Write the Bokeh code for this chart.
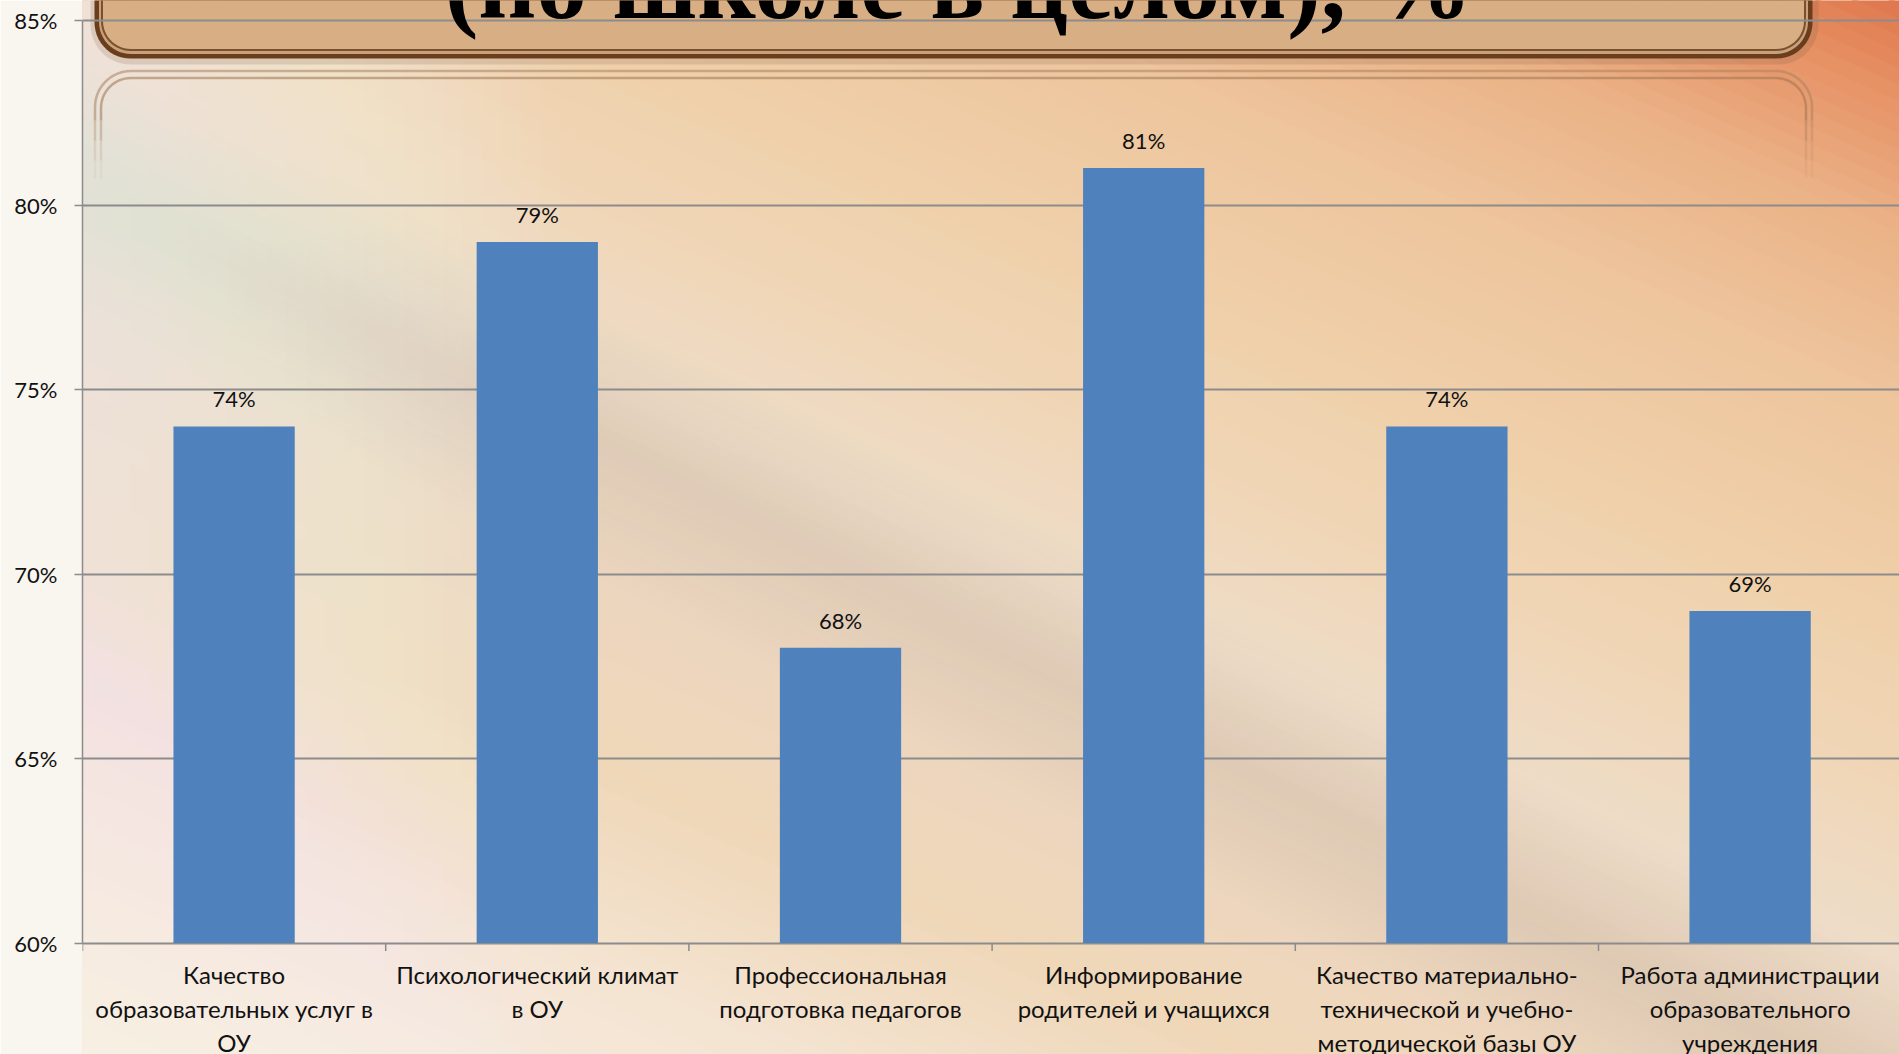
import numpy as np
from bokeh.plotting import figure
from bokeh.models import Range1d, FixedTicker, LabelSet, Label, ColumnDataSource
from bokeh.core.properties import value
from bokeh.embed import file_html
from bokeh.resources import INLINE

# ---------------- data ----------------
categories = [
    "Качество\nобразовательных услуг в\nОУ",
    "Психологический климат\nв ОУ",
    "Профессиональная\nподготовка педагогов",
    "Информирование\nродителей и учащихся",
    "Качество материально-\nтехнической и учебно-\nметодической базы ОУ",
    "Работа администрации\nобразовательного\nучреждения",
]
values = [74, 79, 68, 81, 74, 69]
y_ticks = [60, 65, 70, 75, 80, 85]
y_tick_labels = ["60%", "65%", "70%", "75%", "80%", "85%"]
data_labels = [f"{v}%" for v in values]
title_text = "(по школе в целом), %"

# ---------------- geometry (canvas pixels -> data) ----------------
W, H = 1899, 1054
FR_LEFT = 82.0       # canvas x of plot frame left (y axis)
CAT_PX = 303.2       # pixels per category
PPP = 36.9           # pixels per percent
Y85 = 20.0           # canvas y of 85% line

x_end = (W - FR_LEFT) / CAT_PX
y_top = 85 + Y85 / PPP
y_bot = y_top - H / PPP


def X(wx):
    return (np.asarray(wx, dtype=float) - FR_LEFT) / CAT_PX


def Y(wy):
    return 85 - (np.asarray(wy, dtype=float) - Y85) / PPP


def hex2rgb(h):
    h = h.lstrip("#")
    return np.array([int(h[i:i + 2], 16) for i in (0, 2, 4)], dtype=float)


def rgb2hex(c):
    c = np.clip(np.round(c), 0, 255).astype(int)
    return "#%02x%02x%02x" % tuple(c)


p = figure(
    width=W, height=H,
    x_range=Range1d(0, x_end), y_range=Range1d(y_bot, y_top),
    output_backend="svg", toolbar_location=None,
    x_axis_location=None, y_axis_location="left",
    min_border_left=int(FR_LEFT), min_border_right=0, min_border_top=0, min_border_bottom=0,
)
p.border_fill_color = "#f9f5ef"
p.background_fill_color = "#f0dcc2"
p.outline_line_color = None
p.xgrid.visible = False

# ---------------- background (diagonal gradient) ----------------
theta = np.deg2rad(24)
dvec = np.array([np.cos(theta), np.sin(theta)])
nvec = np.array([-np.sin(theta), np.cos(theta)])
stop_t = [-800, -690, -560, -400, -220, -60, 100, 260, 450, 650, 1000]
stop_c = ["#dd6c44", "#e69164", "#ebb287", "#eec59d", "#efcfa9", "#f0d6b6",
          "#eedcc8", "#ecd6c0", "#efd7b8", "#f4e4d2", "#f9f3ea"]
stop_rgb = np.array([hex2rgb(c) for c in stop_c])
ts = np.linspace(-800, 1000, 121)
S = 4000
bxs, bys, bcol = [], [], []
for k in range(len(ts) - 1):
    c0, c1 = ts[k], ts[k + 1] + 1.5
    pts = [c0 * nvec - S * dvec, c0 * nvec + S * dvec, c1 * nvec + S * dvec, c1 * nvec - S * dvec]
    bxs.append(list(X([q[0] for q in pts])))
    bys.append(list(Y([q[1] for q in pts])))
    tm = 0.5 * (ts[k] + ts[k + 1])
    rgb = [np.interp(tm, stop_t, stop_rgb[:, j]) for j in range(3)]
    bcol.append(rgb2hex(rgb))
p.patches(bxs, bys, fill_color=bcol, line_color=bcol, line_width=1, level="image")

# soft grey swoosh (nested translucent bands)
sw0, sw1 = np.array([-200.0, 40.0]), np.array([2000.0, 1150.0])
sdir = (sw1 - sw0) / np.linalg.norm(sw1 - sw0)
sperp = np.array([-sdir[1], sdir[0]])
sxs, sys_ = [], []
for wid in np.linspace(20, 240, 14):
    pts = [sw0 + sperp * wid / 2, sw1 + sperp * wid / 2, sw1 - sperp * wid / 2, sw0 - sperp * wid / 2]
    sxs.append(list(X([q[0] for q in pts])))
    sys_.append(list(Y([q[1] for q in pts])))
p.patches(sxs, sys_, fill_color="#a08272", fill_alpha=0.006, line_color=None, level="image")

# left white glow (nested rectangles sharing the left edge)
gl = np.linspace(110, 560, 24)
p.quad(left=X([FR_LEFT] * len(gl)), right=X(gl), top=Y(-20), bottom=Y(1100),
       fill_color="#fffcf8", fill_alpha=0.032, line_color=None, level="image")


# ---------------- slide title boxes ----------------
def rrect(x0, y0, x1, y1, r, n=14):
    pts = []
    for cx, cy, a0, a1 in [(x1 - r, y0 + r, -90, 0), (x1 - r, y1 - r, 0, 90),
                           (x0 + r, y1 - r, 90, 180), (x0 + r, y0 + r, 180, 270)]:
        for a in np.deg2rad(np.linspace(a0, a1, n)):
            pts.append((cx + r * np.cos(a), cy + r * np.sin(a)))
    return list(X([q[0] for q in pts])), list(Y([q[1] for q in pts]))


for (x0, y1, x1, r, col, alp) in [
    (90, 64, 1818, 40, "#7a5a40", 0.18),
    (94, 58, 1812, 36, "#6a3d1c", 1.0),
    (98.5, 53.5, 1807.5, 32, "#c8a07a", 1.0),
    (100.5, 50.5, 1805.5, 30, "#7b502e", 1.0),
    (102.5, 48.5, 1803.5, 28, "#d8ae85", 1.0),
]:
    xs, ys = rrect(x0, -120, x1, y1, r)
    p.patch(xs, ys, fill_color=col, fill_alpha=alp, line_color=None, level="image")


def rpath(x0, ytop, x1, ybot, r, n=14):
    pts = [(x0, ybot)]
    for a in np.deg2rad(np.linspace(180, 270, n)):
        pts.append((x0 + r + r * np.cos(a), ytop + r + r * np.sin(a)))
    for a in np.deg2rad(np.linspace(-90, 0, n)):
        pts.append((x1 - r + r * np.cos(a), ytop + r + r * np.sin(a)))
    pts.append((x1, ybot))
    return list(X([q[0] for q in pts])), list(Y([q[1] for q in pts]))


for (x0, yt, x1, r, col, lw) in [(94.5, 70.5, 1811.5, 36, "#a9825f", 2.5),
                                 (100.5, 77.5, 1805.5, 30, "#9c7452", 2.5)]:
    xs, ys = rpath(x0, yt, x1, 120, r)
    p.line(xs, ys, line_color=col, line_width=lw, line_alpha=0.55, level="image")
    for (ya, yb, al) in [(120, 140, 0.35), (140, 160, 0.18), (160, 178, 0.07)]:
        p.segment(x0=X([x0, x1]), y0=Y([ya, ya]), x1=X([x0, x1]), y1=Y([yb, yb]),
                  line_color=col, line_width=lw, line_alpha=al, level="image")

# ---------------- axes & grid ----------------
yax = p.yaxis[0]
yax.ticker = FixedTicker(ticks=y_ticks)
yax.major_label_overrides = {float(t): s for t, s in zip(y_ticks, y_tick_labels)}
yax.bounds = (y_ticks[0], y_ticks[-1])
yax.axis_line_color = "#8c8c8c"
yax.axis_line_width = 1.5
yax.major_tick_line_color = "#8c8c8c"
yax.major_tick_line_width = 1.5
yax.major_tick_out = 8
yax.major_tick_in = 0
yax.minor_tick_line_color = None
yax.major_label_standoff = 17
yax.major_label_text_font = "Lato"
yax.major_label_text_font_size = "22px"
yax.major_label_text_color = "#111111"

p.ygrid.ticker = FixedTicker(ticks=y_ticks)
p.ygrid.grid_line_color = "#8c8c8c"
p.ygrid.grid_line_width = 2

positions = [i + 0.5 for i in range(len(categories))]
boundaries = list(range(len(categories) + 1))
p.segment(x0=boundaries, y0=[y_ticks[0]] * len(boundaries), x1=boundaries,
          y1=[y_ticks[0] - 8 / PPP] * len(boundaries), line_color="#8c8c8c", line_width=1.5)

# ---------------- bars & labels ----------------
p.vbar(x=positions, top=values, bottom=y_ticks[0], width=0.4,
       fill_color="#4f81bd", line_color=None)

# category labels: one centred row per text line
LINE_PX, FIRST_PX = 34, 17
cx, cy, ct = [], [], []
for pos, cat in zip(positions, categories):
    for j, line in enumerate(cat.split("\n")):
        cx.append(pos)
        cy.append(y_ticks[0] - (FIRST_PX + j * LINE_PX) / PPP)
        ct.append(line)
cat_src = ColumnDataSource(dict(x=cx, y=cy, text=ct))
p.add_layout(LabelSet(x="x", y="y", text="text", source=cat_src,
                      text_font=value("Lato"), text_font_size=value("24px"),
                      text_color=value("#111111"), text_align=value("center"),
                      text_baseline=value("top")))

lab_src = ColumnDataSource(dict(x=positions, y=[v + 14 / PPP for v in values], text=data_labels))
p.add_layout(LabelSet(x="x", y="y", text="text", source=lab_src,
                      text_font=value("Lato"), text_font_size=value("22px"),
                      text_color=value("#111111"), text_align=value("center"),
                      text_baseline=value("bottom")))

p.add_layout(Label(x=float(X(958)), y=float(Y(-16.6)), text=title_text,
                   text_font="Liberation Serif", text_font_style="bold",
                   text_font_size="101px", text_color="#000000",
                   text_align="center", text_baseline="alphabetic"))

open("out.html", "w").write(file_html(p, INLINE))
